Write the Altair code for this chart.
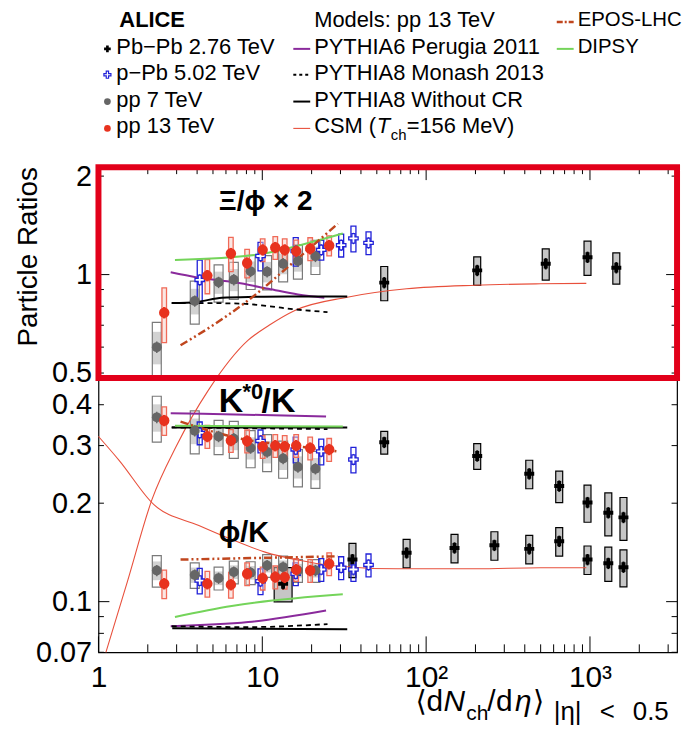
import altair as alt
import pandas as pd
import numpy as np

# ---------------- axis ranges ----------------
XMIN, XMAX = 1.0, 3400.0
YMIN, YMAX = 0.07, 2.13
W, H = 582, 488
PXDEC = W / np.log10(XMAX / XMIN)
F = "Liberation Sans, DejaVu Sans"

# ---------------- multiplicities ----------------
pp7_x = [2.27, 3.87, 5.41, 6.70, 8.49, 10.7, 13.4, 16.5, 21.1]
pp13_x = [2.52, 4.62, 6.43, 8.08, 10.05, 12.0, 13.7, 16.1, 19.6, 25.6]
ppb_x = [4.15, 9.75, 16.0, 22.9, 30.3, 36.0, 44.5]
ppb_ks_x = [4.15, 9.75, 16.0, 22.9, 36.0]
pbpb_xp_x = [55.5, 205, 537, 966, 1448]
pbpb_ks_x = [55.5, 205, 426, 649, 966, 1294, 1601]
pbpb_pk_x = [13.4, 35.5, 76, 149, 261, 426, 649, 966, 1294, 1601]

# ---------------- Xi/phi x 2 ----------------
xp_pp7 = [0.60, 0.83, 0.947, 0.965, 1.023, 1.02, 1.08, 1.10, 1.137]
xp_pp7_sys = [0.19, 0.15, 0.13, 0.13, 0.12, 0.12, 0.12, 0.12, 0.12]
xp_pp13 = [0.765, 0.993, 1.16, 1.085, 1.19, 1.21, 1.19, 1.18, 1.20, 1.227]
xp_pp13_sys = [0.19, 0.12, 0.12, 0.10, 0.08, 0.08, 0.08, 0.08, 0.08, 0.07]
xp_ppb = [0.963, 1.14, 1.18, 1.19, 1.23, 1.29, 1.25]
xp_ppb_sys = [0.15, 0.10, 0.10, 0.07, 0.08, 0.09, 0.08]
xp_pbpb = [0.945, 1.03, 1.08, 1.13, 1.05]
xp_pbpb_sys = [0.12, 0.10, 0.11, 0.12, 0.11]

# ---------------- K*0/K ----------------
ks_pp7 = [0.366, 0.333, 0.320, 0.315, 0.295, 0.287, 0.274, 0.258, 0.255]
ks_pp7_sys = [0.16, 0.15, 0.12, 0.13, 0.13, 0.13, 0.13, 0.13, 0.13]
ks_pp13 = [0.358, 0.320, 0.311, 0.310, 0.298, 0.300, 0.298, 0.300, 0.295, 0.292]
ks_pp13_sys = [0.10, 0.08, 0.08, 0.08, 0.08, 0.08, 0.08, 0.08, 0.08, 0.08]
ks_ppb = [0.328, 0.310, 0.292, 0.288, 0.272]
ks_ppb_sys = [0.08, 0.08, 0.09, 0.09, 0.09]
ks_pbpb = [0.307, 0.279, 0.246, 0.2257, 0.201, 0.187, 0.181]
ks_pbpb_sys = [0.08, 0.09, 0.10, 0.11, 0.13, 0.15, 0.15]

# ---------------- phi/K ----------------
pk_pp7 = [0.1245, 0.1206, 0.118, 0.1232, 0.1226, 0.129, 0.1275, 0.1245, 0.1245]
pk_pp7_sys = [0.11, 0.09, 0.08, 0.08, 0.08, 0.08, 0.08, 0.08, 0.08]
pk_pp13 = [0.1135, 0.1135, 0.1127, 0.1217, 0.118, 0.119, 0.1187, 0.1253, 0.1245, 0.1306]
pk_pp13_sys = [0.10, 0.09, 0.09, 0.08, 0.08, 0.08, 0.08, 0.08, 0.08, 0.08]
pk_ppb = [0.116, 0.1155, 0.1217, 0.1254, 0.127, 0.1254, 0.1295]
pk_ppb_sys = [0.09, 0.09, 0.08, 0.08, 0.08, 0.08, 0.08]
pk_pbpb = [0.1135, 0.1345, 0.141, 0.146, 0.1487, 0.145, 0.153, 0.1345, 0.131, 0.1275]
pk_pbpb_sys = [0.12, 0.12, 0.10, 0.10, 0.10, 0.10, 0.10, 0.10, 0.12, 0.13]

# ---------------- models (pp 13 TeV) ----------------
py6_xp_x = [2.76, 4.0, 6.8, 10.9, 16.5, 23.9]
py6_xp_y = [1.016, 0.98, 0.947, 0.905, 0.869, 0.85]
py6_ks_x = [2.76, 10.0, 24.5]
py6_ks_y = [0.377, 0.372, 0.368]
py6_pk_x = [2.76, 8.2, 24.5]
py6_pk_y = [0.0841, 0.0866, 0.094]

mon_xp_x = [2.8, 4.5, 7.5, 11.0, 15.8, 25.0]
mon_xp_y = [0.818, 0.818, 0.815, 0.80, 0.783, 0.768]
mon_ks_x = [2.8, 25.0]
mon_ks_y = [0.341, 0.337]
mon_pk_x = [2.8, 8.2, 25.0]
mon_pk_y = [0.0841, 0.0836, 0.0854]

ncr_xp_x = [2.8, 4.0, 5.67, 9.0, 14.3, 33.0]
ncr_xp_y = [0.818, 0.825, 0.85, 0.855, 0.857, 0.857]
ncr_ks_x = [2.8, 33.0]
ncr_ks_y = [0.341, 0.341]
ncr_pk_x = [2.82, 33.0]
ncr_pk_y = [0.0829, 0.0823]

epos_xp_x = [3.17, 5.0, 8.2, 15.8, 28.9]
epos_xp_y = [0.608, 0.70, 0.834, 1.10, 1.43]
epos_ks_x = [3.17, 7.85, 15.0, 28.9]
epos_ks_y = [0.355, 0.313, 0.30, 0.288]
epos_pk_x = [3.17, 28.9]
epos_pk_y = [0.1345, 0.1376]

dip_xp_x = [2.93, 9.0, 18.1, 31.0]
dip_xp_y = [1.108, 1.148, 1.24, 1.335]
dip_ks_x = [2.93, 31.0]
dip_ks_y = [0.345, 0.343]
dip_pk_x = [2.93, 6.5, 31.0]
dip_pk_y = [0.0898, 0.097, 0.1053]

csm_xp_x = [1.11, 1.5, 2.12, 3.0, 4.7, 8.2, 11.0, 15.8, 33.0, 76.0, 200.0, 500.0, 950.0]
csm_xp_y = [0.07, 0.115, 0.205, 0.30, 0.444, 0.63, 0.70, 0.777, 0.853, 0.905, 0.928, 0.937, 0.94]
csm_pk_x = [1.0, 1.34, 2.18, 4.1, 6.5, 10.4, 16.5, 26.3, 66.5, 200.0, 500.0, 950.0]
csm_pk_y = [0.32, 0.27, 0.198, 0.171, 0.155, 0.1417, 0.134, 0.129, 0.126, 0.126, 0.127, 0.127]

# ---------------- helpers ----------------
xs = alt.Scale(type="log", domain=[XMIN, XMAX], nice=False)
ys = alt.Scale(type="log", domain=[YMIN, YMAX], nice=False)
xaxis = alt.Axis(values=[1, 10, 100, 1000], title=None, ticks=False, domain=False, grid=False,
                 labelExpr="datum.value == 1 ? '1' : datum.value == 10 ? '10' : datum.value == 100 ? '10²' : '10³'",
                 labelFontSize=30, labelFont=F, labelColor="black", labelPadding=10,
                 labelFlush=False, labelOverlap=False)
yaxis = alt.Axis(values=[0.07, 0.1, 0.2, 0.3, 0.4, 0.5, 1, 2], format="~g", title=None, ticks=False,
                 domain=False, grid=False, labelFontSize=29, labelFont=F, labelColor="black",
                 labelPadding=7, labelOverlap=False, labelFlush=False)


def X(f):
    return alt.X(f, type="quantitative", scale=xs, axis=xaxis)


def Y(f):
    return alt.Y(f, type="quantitative", scale=ys, axis=yaxis)


def build(sets, half_px, stat=0.04, unc=0.6):
    rows = []
    for xv, yv, sv in sets:
        for i, (x, y, s) in enumerate(zip(xv, yv, sv)):
            hp = half_px[i] if isinstance(half_px, list) else half_px
            f = 10 ** (hp / PXDEC)
            rows.append(dict(x=x, y=y, x1=x / f, x2=x * f, ylo=y * (1 - s), yhi=y * (1 + s),
                             ulo=y * (1 - unc * s), uhi=y * (1 + unc * s),
                             slo=y * (1 - stat), shi=y * (1 + stat)))
    return pd.DataFrame(rows)


pbpb_df = pd.concat([
    build([(pbpb_xp_x, xp_pbpb, xp_pbpb_sys)], 3.5),
    build([(pbpb_ks_x, ks_pbpb, ks_pbpb_sys)], 3.5),
    build([(pbpb_pk_x, pk_pbpb, pk_pbpb_sys)], [9, 3.5, 3.5, 3.5, 3.5, 3.5, 3.5, 3.5, 3.5, 3.5]),
])
ppb_df = build([(ppb_x, xp_ppb, xp_ppb_sys), (ppb_ks_x, ks_ppb, ks_ppb_sys), (ppb_x, pk_ppb, pk_ppb_sys)], 2.5)
pp7_df = build([(pp7_x, xp_pp7, xp_pp7_sys), (pp7_x, ks_pp7, ks_pp7_sys), (pp7_x, pk_pp7, pk_pp7_sys)], 4.5)
pp13_df = build([(pp13_x, xp_pp13, xp_pp13_sys), (pp13_x, ks_pp13, ks_pp13_sys), (pp13_x, pk_pp13, pk_pp13_sys)], 2.3)


def model_df(parts):
    rows = []
    for k, (xv, yv) in enumerate(parts):
        for x, y in zip(xv, yv):
            rows.append(dict(x=x, y=y, seg=k))
    return pd.DataFrame(rows)


layers = []

# systematic boxes
layers.append(alt.Chart(pbpb_df).mark_rect(fill="#c6c6c6", stroke="black", strokeWidth=1.2)
              .encode(x=X("x1"), x2="x2", y=Y("ylo"), y2="yhi"))
layers.append(alt.Chart(pp7_df).mark_rect(fill="#d2d2d2", strokeWidth=0)
              .encode(x=X("x1"), x2="x2", y=Y("ulo"), y2="uhi"))
layers.append(alt.Chart(pp7_df).mark_rect(fillOpacity=0, stroke="#7a7a7a", strokeWidth=1.2)
              .encode(x=X("x1"), x2="x2", y=Y("ylo"), y2="yhi"))
layers.append(alt.Chart(ppb_df).mark_rect(fillOpacity=0, stroke="#2020d8", strokeWidth=1.3)
              .encode(x=X("x1"), x2="x2", y=Y("ylo"), y2="yhi"))
layers.append(alt.Chart(pp13_df).mark_rect(fill="#f8d0c8", fillOpacity=0.5, stroke="#f06a58", strokeWidth=1.3)
              .encode(x=X("x1"), x2="x2", y=Y("ylo"), y2="yhi"))

# models
models = [
    (model_df([(csm_xp_x, csm_xp_y), (csm_pk_x, csm_pk_y)]), dict(color="#e8503c", strokeWidth=1.1)),
    (model_df([(py6_xp_x, py6_xp_y), (py6_ks_x, py6_ks_y), (py6_pk_x, py6_pk_y)]), dict(color="#8a2a9c", strokeWidth=2)),
    (model_df([(mon_xp_x, mon_xp_y), (mon_ks_x, mon_ks_y), (mon_pk_x, mon_pk_y)]), dict(color="black", strokeWidth=1.8, strokeDash=[5, 4])),
    (model_df([(ncr_xp_x, ncr_xp_y), (ncr_ks_x, ncr_ks_y), (ncr_pk_x, ncr_pk_y)]), dict(color="black", strokeWidth=2)),
    (model_df([(dip_xp_x, dip_xp_y), (dip_ks_x, dip_ks_y), (dip_pk_x, dip_pk_y)]), dict(color="#74d45a", strokeWidth=2)),
    (model_df([(epos_xp_x, epos_xp_y), (epos_ks_x, epos_ks_y), (epos_pk_x, epos_pk_y)]), dict(color="#c0461e", strokeWidth=2.5, strokeDash=[8, 3, 2, 3, 2, 3])),
]
for mdf, style in models:
    layers.append(alt.Chart(mdf).mark_line(interpolate="monotone", **style)
                  .encode(x=X("x"), y=Y("y"), detail="seg:N"))

# statistical bars and markers
layers.append(alt.Chart(pbpb_df).mark_rule(color="black", strokeWidth=2).encode(x=X("x"), y=Y("slo"), y2="shi"))
layers.append(alt.Chart(pbpb_df).mark_point(shape="cross", filled=True, color="black", size=100, opacity=1)
              .encode(x=X("x"), y=Y("y")))
layers.append(alt.Chart(ppb_df).mark_rule(color="#2020d8", strokeWidth=1.3).encode(x=X("x"), y=Y("slo"), y2="shi"))
OPEN_CROSS = "M-0.33,-1H0.33V-0.33H1V0.33H0.33V1H-0.33V0.33H-1V-0.33H-0.33Z"
layers.append(alt.Chart(ppb_df).mark_point(shape=OPEN_CROSS, filled=True, fill="white", stroke="#2020d8",
                                           strokeWidth=1.3, size=90, opacity=1)
              .encode(x=X("x"), y=Y("y")))
layers.append(alt.Chart(pp7_df).mark_rule(color="#666666", strokeWidth=1.5).encode(x=X("x"), y=Y("slo"), y2="shi"))
layers.append(alt.Chart(pp7_df).mark_circle(color="#666666", size=100, opacity=1).encode(x=X("x"), y=Y("y")))
layers.append(alt.Chart(pp13_df).mark_rule(color="#e8321e", strokeWidth=2.5).encode(x=X("x"), y=Y("slo"), y2="shi"))
layers.append(alt.Chart(pp13_df).mark_circle(color="#e8321e", size=110, opacity=1).encode(x=X("x"), y=Y("y")))

# ---------------- ticks (inside the frame, ROOT style) ----------------
xt_major = [1, 10, 100, 1000]
xt_minor = [k * 10 ** d for d in range(4) for k in range(2, 10) if k * 10 ** d <= XMAX]
yt_major = [0.1, 1]
yt_minor = [0.07, 0.08, 0.09, 0.2, 0.3, 0.4, 0.5, 0.6, 0.7, 0.8, 0.9, 2]
for vals, ln_b, ln_t in [(xt_major, 16, 13), (xt_minor, 8, 7)]:
    d = pd.DataFrame({"v": vals})
    layers.append(alt.Chart(d).mark_rule(color="black", strokeWidth=1)
                  .encode(x=X("v"), y=alt.value(H), y2=alt.value(H - ln_b)))
    layers.append(alt.Chart(d).mark_rule(color="black", strokeWidth=1)
                  .encode(x=X("v"), y=alt.value(0), y2=alt.value(ln_t)))
for vals, ln in [(yt_major, 11), (yt_minor, 5.5)]:
    d = pd.DataFrame({"v": vals})
    layers.append(alt.Chart(d).mark_rule(color="black", strokeWidth=1)
                  .encode(y=Y("v"), x=alt.value(0), x2=alt.value(ln)))
    layers.append(alt.Chart(d).mark_rule(color="black", strokeWidth=1)
                  .encode(y=Y("v"), x=alt.value(W), x2=alt.value(W - ln)))

# ---------------- highlight box around Xi/phi ----------------
hl = pd.DataFrame({"x1": [XMIN], "x2": [XMAX], "ylo": [0.483], "yhi": [YMAX]})
layers.append(alt.Chart(hl).mark_rect(fillOpacity=0, stroke="#e2001a", strokeWidth=6)
              .encode(x=X("x1"), x2="x2", y=Y("ylo"), y2="yhi"))

one = pd.DataFrame({"a": [0]})


def txt(s, x, y, size, bold=False, italic=False, align="left", baseline="alphabetic", angle=0, color="black"):
    kw = dict(fontSize=size, font=F, align=align, baseline=baseline, color=color)
    if bold:
        kw["fontWeight"] = "bold"
    if italic:
        kw["fontStyle"] = "italic"
    if angle:
        kw["angle"] = angle
    return alt.Chart(one).mark_text(**kw).encode(x=alt.value(x), y=alt.value(y), text=alt.value(s))


# ratio labels
layers.append(txt("Ξ/ϕ × 2", 121, 43, 28, bold=True))
layers.append(txt("K", 121, 246, 34, bold=True))
layers.append(txt("*0", 145, 233, 22, bold=True))
layers.append(txt("/K", 164, 246, 34, bold=True))
layers.append(txt("ϕ/K", 121, 377, 29, bold=True))

# axis titles
layers.append(txt("Particle Ratios", -70, 0, 28, align="right", baseline="middle", angle=270))
XT = 547
layers.append(txt("⟨", 319, XT, 29))
layers.append(txt("d", 330, XT, 30))
layers.append(txt("N", 347, XT, 30, italic=True))
layers.append(txt("ch", 370, XT + 9, 21))
layers.append(txt("/", 391, XT, 30))
layers.append(txt("d", 400, XT, 30))
layers.append(txt("η", 419, XT, 30, italic=True))
layers.append(txt("⟩", 437, XT, 29))
layers.append(txt("|η|\u2002\u2009<\u2002\u20090.5", 458, XT + 9, 26))

# ---------------- legend ----------------
ROWS = [-148, -121, -95, -68, -41]
LF = 22
layers.append(txt("ALICE", 21, ROWS[0], LF, bold=True, baseline="middle"))
for i, s in enumerate(["Pb−Pb 2.76 TeV", "p−Pb 5.02 TeV", "pp 7 TeV", "pp 13 TeV"]):
    layers.append(txt(s, 18, ROWS[i + 1], LF, baseline="middle"))
layers.append(alt.Chart(one).mark_point(shape="cross", filled=True, color="black", size=45, opacity=1)
              .encode(x=alt.value(9), y=alt.value(ROWS[1] + 2)))
layers.append(alt.Chart(one).mark_point(shape=OPEN_CROSS, filled=True, fill="white", stroke="#2020d8",
                                        strokeWidth=1.2, size=50, opacity=1)
              .encode(x=alt.value(9), y=alt.value(ROWS[2] + 2)))
layers.append(alt.Chart(one).mark_circle(color="#666666", size=45, opacity=1)
              .encode(x=alt.value(9), y=alt.value(ROWS[3] + 2)))
layers.append(alt.Chart(one).mark_circle(color="#e8321e", size=45, opacity=1)
              .encode(x=alt.value(9), y=alt.value(ROWS[4] + 2)))

layers.append(txt("Models: pp 13 TeV", 217, ROWS[0], LF, baseline="middle"))
leg2 = [("PYTHIA6 Perugia 2011", dict(color="#8a2a9c", strokeWidth=2)),
        ("PYTHIA8 Monash 2013", dict(color="black", strokeWidth=2, strokeDash=[3, 3])),
        ("PYTHIA8 Without CR", dict(color="black", strokeWidth=2)),
        ("CSM (", dict(color="#e8503c", strokeWidth=1.1))]
for i, (s, st) in enumerate(leg2):
    layers.append(alt.Chart(one).mark_rule(**st)
                  .encode(x=alt.value(196), x2=alt.value(213), y=alt.value(ROWS[i + 1] + 2)))
    if i < 3:
        layers.append(txt(s, 217, ROWS[i + 1], LF, baseline="middle"))
layers.append(txt("CSM (", 217, ROWS[4], LF, baseline="middle"))
layers.append(txt("T", 280, ROWS[4], LF, italic=True, baseline="middle"))
layers.append(txt("ch", 294, ROWS[4] + 9, 15, baseline="middle"))
layers.append(txt("=156 MeV)", 310, ROWS[4], LF, baseline="middle"))

LF3 = 20.5
layers.append(alt.Chart(one).mark_rule(color="#c0461e", strokeWidth=2.5, strokeDash=[6, 2, 2, 2])
              .encode(x=alt.value(461), x2=alt.value(478), y=alt.value(ROWS[0] + 2)))
layers.append(txt("EPOS-LHC", 482, ROWS[0], LF3, baseline="middle"))
layers.append(alt.Chart(one).mark_rule(color="#74d45a", strokeWidth=2)
              .encode(x=alt.value(461), x2=alt.value(478), y=alt.value(ROWS[1] + 2)))
layers.append(txt("DIPSY", 482, ROWS[1], LF3, baseline="middle"))

chart = alt.layer(*layers).properties(
    width=W, height=H,
    padding={"left": 91, "top": 158, "right": 8, "bottom": 71},
    autosize=alt.AutoSizeParams(type="none"),
).configure_view(stroke="black", strokeWidth=1.2)

chart.save("out.html", embed_options={"renderer": "svg", "actions": False})
